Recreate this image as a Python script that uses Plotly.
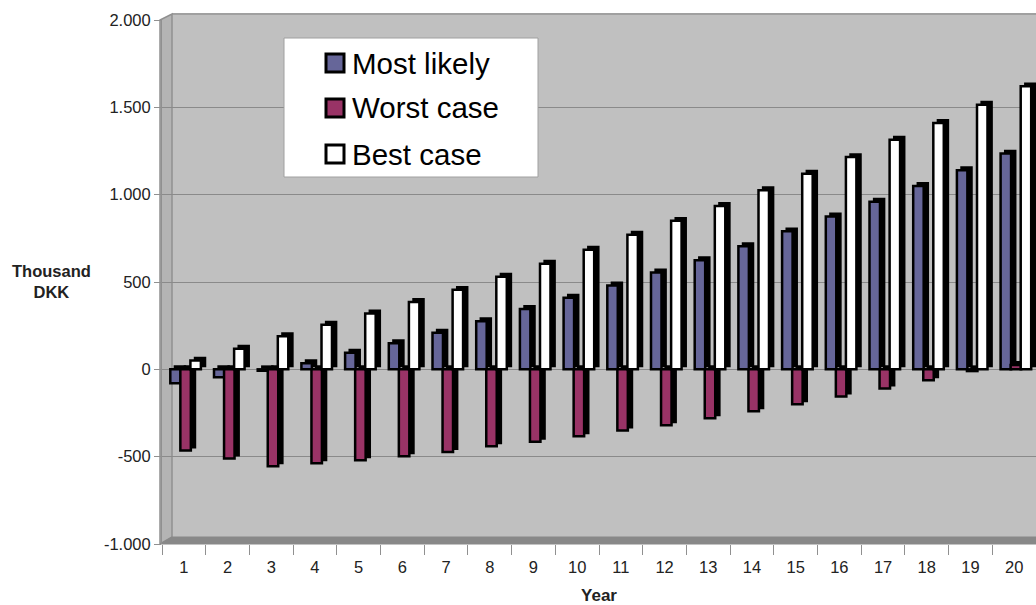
import plotly.graph_objects as go

years = [str(i) for i in range(1, 21)]
most_likely = [-80, -45, -8, 35, 95, 150, 210, 275, 345, 410, 480, 555, 625, 705, 790, 875, 960, 1050, 1140, 1235]
worst_case = [-465, -510, -555, -538, -520, -497, -473, -440, -415, -383, -350, -320, -280, -240, -200, -155, -110, -63, -10, 25]
best_case = [50, 118, 190, 255, 320, 385, 455, 530, 605, 685, 770, 850, 935, 1025, 1120, 1215, 1315, 1410, 1515, 1620]
series_names = ["Most likely", "Worst case", "Best case"]
colors = ["#666699", "#993366", "#ffffff"]
y_ticks = [-1000, -500, 0, 500, 1000, 1500, 2000]
y_tick_text = ["-1.000", "-500", "0", "500", "1.000", "1.500", "2.000"]

FONT = "Arial, 'Liberation Sans', sans-serif"
W, H = 1036, 605
L, R, T, B = 162, 0, 20, 605 - 544
PW, PH = W - L - R, H - T - B


def px(x):
    """viewport x pixel -> paper x"""
    return (x - L) / PW


def py(y):
    """viewport y pixel -> paper y"""
    return (H - B - y) / PH


fig = go.Figure()
offsets = [-0.31, -0.08, 0.15]
bw = 0.24
depth_x = 0.10
depth_y = 17
for name, vals, col, off in zip(series_names, [most_likely, worst_case, best_case], colors, offsets):
    # depth (3D side) silhouette
    fig.add_trace(go.Bar(
        x=years, y=vals, base=[depth_y] * len(vals), offset=off + depth_x, width=bw,
        marker=dict(color="#000000", line=dict(color="#000000", width=2)),
        showlegend=False, hoverinfo="skip"))
    fig.add_trace(go.Bar(
        x=years, y=vals, name=name, offset=off, width=bw, showlegend=False,
        marker=dict(color=col, line=dict(color="#000000", width=2.5))))

shapes = [
    # back wall top strip
    dict(type="rect", xref="paper", yref="paper", x0=px(172), x1=1, y0=py(20), y1=py(14),
         fillcolor="#c0c0c0", line=dict(width=0), layer="below"),
    dict(type="line", xref="paper", yref="paper", x0=px(172), x1=1, y0=py(14), y1=py(14),
         line=dict(color="#a0a0a0", width=2), layer="below"),
    # left side wall
    dict(type="path", xref="paper", yref="paper",
         path=f"M{px(160)},{py(544)} L{px(160)},{py(20)} L{px(172)},{py(14)} L{px(172)},{py(537)} Z",
         fillcolor="#b4b4b4", line=dict(color="#909090", width=1.5), layer="below"),
    # floor
    dict(type="path", xref="paper", yref="paper",
         path=f"M{px(160)},{py(544)} L{px(172)},{py(537)} L{px(1036)},{py(537)} L{px(1036)},{py(544)} Z",
         fillcolor="#888888", line=dict(color="#888888", width=1), layer="below"),
    # legend box
    dict(type="rect", xref="paper", yref="paper", x0=px(284), x1=px(538), y0=py(177), y1=py(38),
         fillcolor="#ffffff", line=dict(color="#a0a0a0", width=1), layer="above"),
]

annotations = [dict(
    text="<b>Thousand<br>DKK</b>", xref="paper", yref="paper",
    x=px(51), y=py(281), xanchor="center", yanchor="middle",
    showarrow=False, font=dict(size=16.5, color="#222222", family=FONT), align="center")]

legend_y = [63, 108, 154]
for name, col, ly in zip(series_names, colors, legend_y):
    shapes.append(dict(type="rect", xref="paper", yref="paper",
                       x0=px(326), x1=px(344), y0=py(ly + 9), y1=py(ly - 9),
                       fillcolor=col, line=dict(color="#000000", width=3), layer="above"))
    annotations.append(dict(text=name, xref="paper", yref="paper", x=px(350), y=py(ly),
                            xanchor="left", yanchor="middle", showarrow=False,
                            font=dict(size=29.5, color="#000000", family=FONT)))

fig.update_layout(
    width=W, height=H,
    margin=dict(l=L, r=R, t=T, b=B),
    paper_bgcolor="#ffffff", plot_bgcolor="#c0c0c0",
    barmode="overlay",
    showlegend=False,
    font=dict(family=FONT, size=16.5, color="#222222"),
    shapes=shapes,
    annotations=annotations,
    xaxis=dict(
        type="category", range=[-0.5, 19.5], tickson="boundaries",
        ticks="outside", ticklen=10, tickcolor="#909090", tickwidth=1,
        ticklabelstandoff=11,
        showline=False, showgrid=False, zeroline=False,
        tickfont=dict(size=16.5, color="#222222"),
        title=dict(text="<b>Year</b>", font=dict(size=17, color="#222222"), standoff=14),
    ),
    yaxis=dict(
        range=[-1000, 2000], tickvals=y_ticks, ticktext=y_tick_text,
        ticks="outside", ticklen=7, tickcolor="#909090",
        showline=True, linecolor="#909090", linewidth=1,
        showgrid=True, gridcolor="#8a8a8a", gridwidth=1,
        zeroline=False, tickfont=dict(size=16.5, color="#222222"),
    ),
)

fig.write_html(
    "out.html",
    config={"displayModeBar": False},
    post_script="document.body.style.margin='0';document.body.style.overflow='hidden';",
)
